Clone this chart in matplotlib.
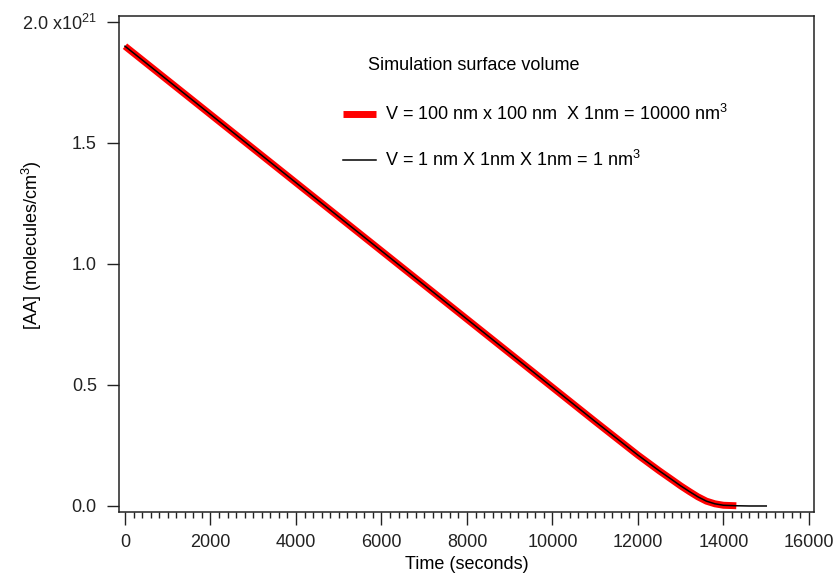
import numpy as np
import matplotlib
matplotlib.use("Agg")
import matplotlib.pyplot as plt
from matplotlib.ticker import MultipleLocator, FixedLocator, FixedFormatter

plt.rcParams['font.family'] = ['Liberation Sans', 'DejaVu Sans']
plt.rcParams['mathtext.default'] = 'regular'

# Data (concentration in units of 1e21 molecules/cm^3)
time_big = [0, 1000, 2000, 3000, 4000, 5000, 6000, 7000, 8000, 9000, 10000,
            11000, 12000, 12500, 12800, 13000, 13200, 13400, 13600, 13800,
            14000, 14300]
conc_big = [1.90, 1.759, 1.618, 1.477, 1.336, 1.195, 1.054, 0.913, 0.772, 0.631, 0.49,
            0.349, 0.21, 0.145, 0.108, 0.083, 0.060, 0.038, 0.020, 0.009,
            0.003, 0.001]
time_small = time_big + [14600, 15000]
conc_small = conc_big + [0.0, 0.0]

label_big = "V = 100 nm x 100 nm  X 1nm = 10000 nm$^3$"
label_small = "V = 1 nm X 1nm X 1nm = 1 nm$^3$"
yticks = [0.0, 0.5, 1.0, 1.5, 2.0]
yticklabels = ["0.0", "0.5", "1.0", "1.5", "2.0 x10$^{21}$"]

fs = 13

fig = plt.figure(figsize=(8.35, 5.75), dpi=100)
ax = fig.add_axes([119/835, 1 - 511.7/575, (814 - 119)/835, (511.7 - 16)/575])

ax.plot(time_big, conc_big, color='#ff0000', linewidth=5, solid_capstyle='butt', label=label_big)
ax.plot(time_small, conc_small, color='black', linewidth=1.1, label=label_small)

ax.set_xlim(-140, 16117)
ax.set_ylim(-0.0236, 2.0248)

ax.xaxis.set_major_locator(MultipleLocator(2000))
ax.xaxis.set_minor_locator(MultipleLocator(200))
ax.yaxis.set_major_locator(FixedLocator(yticks))
ax.yaxis.set_major_formatter(FixedFormatter(yticklabels))

ax.tick_params(which='both', direction='out', width=1, labelsize=fs, colors='#222222')
ax.tick_params(which='major', length=9, pad=7)
ax.tick_params(which='minor', length=4.5)
for s in ax.spines.values():
    s.set_linewidth(1.1)
    s.set_color('#222222')

ax.set_xlabel("Time (seconds)", fontsize=fs)
ax.xaxis.set_label_coords(0.5, -(556 - 511.7)/495.7)
ax.set_ylabel("[AA] (molecules/cm$^3$)", fontsize=fs)
ax.yaxis.set_label_coords(-(119 - 44)/695, (511.7 - 245)/495.7)

ax.text(368/835, 1 - 65/575, "Simulation surface volume", transform=fig.transFigure,
        fontsize=fs, va='center', ha='left')
leg = ax.legend(loc='upper left', bbox_to_anchor=(343/835, 1 - 104/575),
                bbox_transform=fig.transFigure, frameon=False, fontsize=fs,
                handlelength=1.8, handletextpad=0.55, labelspacing=1.45,
                borderpad=0, borderaxespad=0)

fig.savefig("out.png", dpi=100)
